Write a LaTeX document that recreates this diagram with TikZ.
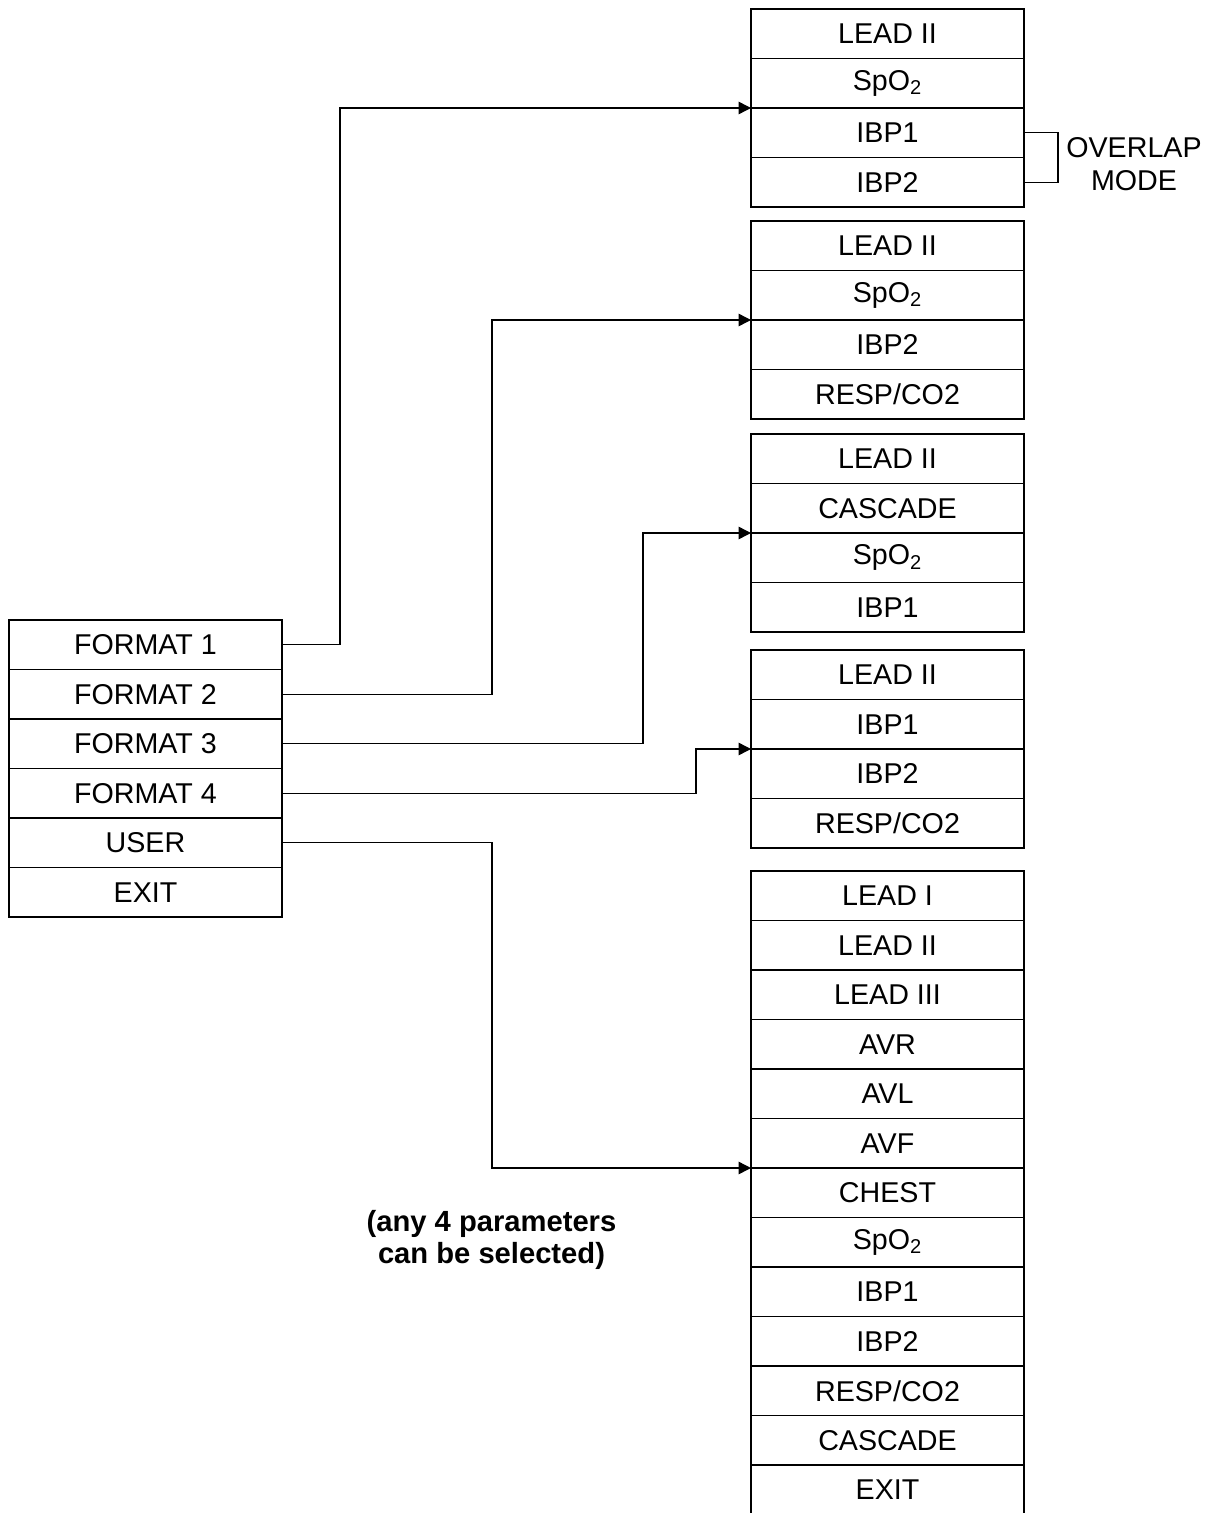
\documentclass[tikz,border=0pt]{standalone}
\usepackage{fontspec}
\setmainfont{Liberation Sans}
\usetikzlibrary{positioning, arrows.meta}

\begin{document}
\begin{tikzpicture}[
    % Node styles
    cell/.style={
        draw, line width=0.8pt, outer sep=0pt, inner sep=0pt,
        minimum width=5.46cm, minimum height=0.99cm,
        font=\fontsize{16.3}{19}\selectfont
    },
    note/.style={
        align=center, inner sep=0pt,
        font=\fontsize{16.3}{19}\selectfont
    },
    % Connector styles
    link/.style={draw, line width=0.8pt},
    arrow/.style={-{Triangle[length=7pt, width=7pt]}, line width=0.8pt},
]

\useasboundingbox (0,0) rectangle (24.26,-30.26);

% ===== LEFT MENU =====
\node[cell, anchor=north west] (F1) at (0.18,-12.40) {FORMAT 1};
\node[cell, below=0pt of F1] (F2) {FORMAT 2};
\node[cell, below=0pt of F2] (F3) {FORMAT 3};
\node[cell, below=0pt of F3] (F4) {FORMAT 4};
\node[cell, below=0pt of F4] (F-user) {USER};
\node[cell, below=0pt of F-user] (F-exit) {EXIT};

% ===== FORMAT 1 =====
\node[cell, anchor=north west] (B1-1) at (15.02,-0.18) {LEAD II};
\node[cell, below=0pt of B1-1] (B1-2) {SpO\textsubscript{2}};
\node[cell, below=0pt of B1-2] (B1-3) {IBP1};
\node[cell, below=0pt of B1-3] (B1-4) {IBP2};

% overlap bracket
\draw[link] (B1-3.east) -- ++(0.68,0) |- (B1-4.east);
\node[note] (overlap) at (22.68,-3.28) {OVERLAP\\MODE};

% ===== FORMAT 2 =====
\node[cell, anchor=north west] (B2-1) at (15.02,-4.42) {LEAD II};
\node[cell, below=0pt of B2-1] (B2-2) {SpO\textsubscript{2}};
\node[cell, below=0pt of B2-2] (B2-3) {IBP2};
\node[cell, below=0pt of B2-3] (B2-4) {RESP/CO2};

% ===== FORMAT 3 =====
\node[cell, anchor=north west] (B3-1) at (15.02,-8.68) {LEAD II};
\node[cell, below=0pt of B3-1] (B3-2) {CASCADE};
\node[cell, below=0pt of B3-2] (B3-3) {SpO\textsubscript{2}};
\node[cell, below=0pt of B3-3] (B3-4) {IBP1};

% ===== FORMAT 4 =====
\node[cell, anchor=north west] (B4-1) at (15.02,-13.00) {LEAD II};
\node[cell, below=0pt of B4-1] (B4-2) {IBP1};
\node[cell, below=0pt of B4-2] (B4-3) {IBP2};
\node[cell, below=0pt of B4-3] (B4-4) {RESP/CO2};

% ===== USER =====
\node[cell, anchor=north west] (B5-1) at (15.02,-17.42) {LEAD I};
\node[cell, below=0pt of B5-1] (B5-2) {LEAD II};
\node[cell, below=0pt of B5-2] (B5-3) {LEAD III};
\node[cell, below=0pt of B5-3] (B5-4) {AVR};
\node[cell, below=0pt of B5-4] (B5-5) {AVL};
\node[cell, below=0pt of B5-5] (B5-6) {AVF};
\node[cell, below=0pt of B5-6] (B5-7) {CHEST};
\node[cell, below=0pt of B5-7] (B5-8) {SpO\textsubscript{2}};
\node[cell, below=0pt of B5-8] (B5-9) {IBP1};
\node[cell, below=0pt of B5-9] (B5-10) {IBP2};
\node[cell, below=0pt of B5-10] (B5-11) {RESP/CO2};
\node[cell, below=0pt of B5-11] (B5-12) {CASCADE};
\node[cell, below=0pt of B5-12] (B5-13) {EXIT};

% note under the user path
\node[note, font=\fontsize{16.6}{18}\selectfont\bfseries] (user-note) at (9.83,-24.80)
    {(any 4 parameters\\can be selected)};

% ===== ARROWS =====
\draw[arrow] (F1.east) -- ++(1.16,0) |- (B1-2.south west);
\draw[arrow] (F2.east) -- ++(4.20,0) |- (B2-2.south west);
\draw[arrow] (F3.east) -- ++(7.22,0) |- (B3-2.south west);
\draw[arrow] (F4.east) -- ++(8.28,0) |- (B4-2.south west);
\draw[arrow] (F-user.east) -- ++(4.20,0) |- (B5-6.south west);

\end{tikzpicture}
\end{document}
